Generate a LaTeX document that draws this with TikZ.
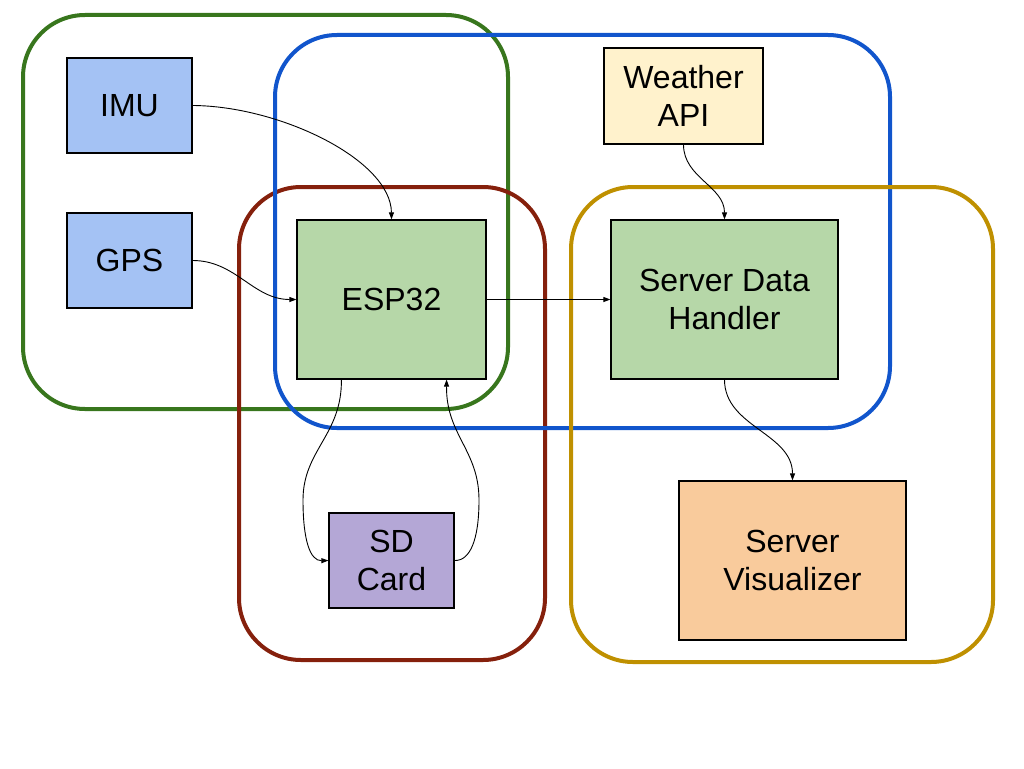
\documentclass[tikz,border=0pt]{standalone}
\usepackage{fontspec}
\setmainfont{Liberation Sans}
\usetikzlibrary{arrows.meta,backgrounds}
\definecolor{grpgreen}{HTML}{38761D}
\definecolor{grpblue}{HTML}{1155CC}
\definecolor{grpred}{HTML}{85200C}
\definecolor{grpgold}{HTML}{BF9000}
\definecolor{fblue}{HTML}{A4C2F4}
\definecolor{fgreen}{HTML}{B6D7A8}
\definecolor{fyellow}{HTML}{FFF2CC}
\definecolor{fpurple}{HTML}{B4A7D6}
\definecolor{forange}{HTML}{F9CB9C}
\tikzset{
  box/.style={draw=black, line width=1.2, rectangle, inner sep=0, align=center,
    font=\fontsize{32}{38}\selectfont, text=black},
  group/.style={line width=4, rounded corners=62},
  conn/.style={draw=black, line width=0.9, -{Triangle[length=7,width=5]}},
}
\begin{document}
\begin{tikzpicture}[x=1pt,y=-1pt]
\useasboundingbox (0,0) rectangle (1024,768);
% nodes
\node[box, fill=fblue, minimum width=125, minimum height=95] (imu) at (129.5,105.5) {IMU};
\node[box, fill=fblue, minimum width=125, minimum height=95] (gps) at (129.5,260.5) {GPS};
\node[box, fill=fgreen, minimum width=189, minimum height=159] (esp) at (391.5,299.5) {ESP32};
\node[box, fill=fyellow, minimum width=159, minimum height=96] (wapi) at (683.5,96) {Weather\\API};
\node[box, fill=fgreen, minimum width=227, minimum height=159] (sdh) at (724.5,299.5) {Server Data\\Handler};
\node[box, fill=fpurple, minimum width=125, minimum height=95] (sd) at (391.5,560.5) {SD\\Card};
\node[box, fill=forange, minimum width=227, minimum height=159] (sv) at (792.5,560.5) {Server\\Visualizer};
% groups
\begin{scope}[on background layer]
\draw[group, grpgreen] (23,15) rectangle (508,409);
\draw[group, grpred] (239,187) rectangle (545,660);
\draw[group, grpblue] (275,35) rectangle (890,428);
\draw[group, grpgold] (571,187) rectangle (993,662);
\end{scope}
% connectors
\draw[conn] (imu.east) .. controls (280,106) and (391,160) .. (esp.north);
\draw[conn] (gps.east) to[out=0,in=180] (esp.west);
\draw[conn] (esp.east) -- (sdh.west);
\draw[conn] (wapi.south) to[out=-90,in=90] (sdh.north);
\draw[conn] (sdh.south) to[out=-90,in=90] (sv.north);
\coordinate (espA) at ([xshift=45]esp.south west);
\coordinate (espB) at ([xshift=-40]esp.south east);
\coordinate (bendL) at (303,500);
\coordinate (bendR) at (479,500);
\draw[conn] (espA) .. controls (342,435) and (303,450) .. (bendL)
  .. controls (303,540) and (310,561) .. (sd.west);
\draw[conn] (sd.east) .. controls (470,561) and (479,540) .. (bendR)
  .. controls (479,450) and (446,435) .. (espB);
\end{tikzpicture}
\end{document}
